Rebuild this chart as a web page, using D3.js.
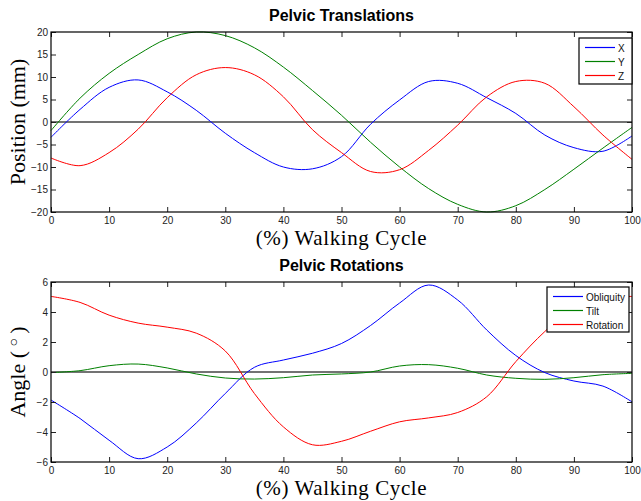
<!DOCTYPE html>
<html>
<head>
<meta charset="utf-8">
<script src="https://cdn.jsdelivr.net/npm/d3@7"></script>
<style>
  body { margin: 0; background: #fff; }
  svg { display: block; }
</style>
</head>
<body>
<svg id="chart" width="641" height="501"></svg>
<script>
// walking cycle positions (%)
const cycle = [0, 5, 10, 15, 20, 25, 30, 35, 40, 45, 50, 55, 60, 65, 70, 75, 80, 85, 90, 95, 100];

// pelvic translations (mm)
const transX = [-3.4, 2.8, 7.7, 9.35, 6.7, 2.6, -2.5, -6.8, -10.0, -10.4, -7.7, -0.5, 4.9, 9.0, 8.6, 5.4, 1.9, -2.9, -5.7, -6.5, -3.1];
const transY = [-1.9, 5.3, 10.8, 15.0, 18.5, 20.0, 19.2, 16.5, 12.2, 7.0, 1.5, -4.5, -10.0, -14.8, -18.3, -20.0, -18.6, -15.0, -10.5, -5.8, -1.2];
const transZ = [-8.0, -9.7, -6.8, -1.6, 5.4, 10.5, 12.1, 10.5, 5.6, -1.7, -6.8, -11.0, -10.6, -6.3, -0.7, 5.6, 9.0, 8.6, 3.4, -2.9, -8.3];

// pelvic rotations (deg)
const obliquity = [-1.87, -3.1, -4.55, -5.78, -5.0, -3.4, -1.43, 0.31, 0.8, 1.25, 1.9, 3.1, 4.6, 5.8, 4.8, 2.8, 1.1, -0.04, -0.6, -0.94, -1.99];
const tilt = [-0.04, 0.09, 0.42, 0.53, 0.27, -0.13, -0.4, -0.47, -0.38, -0.2, -0.13, 0.0, 0.4, 0.49, 0.25, -0.2, -0.42, -0.49, -0.38, -0.18, -0.09];
const rotation = [5.04, 4.64, 3.79, 3.26, 2.99, 2.59, 1.4, -1.43, -3.66, -4.85, -4.62, -3.95, -3.32, -3.06, -2.7, -1.65, 0.69, 2.7, 4.3, 4.9, 5.04];

const xTicks = [0, 10, 20, 30, 40, 50, 60, 70, 80, 90, 100];
const transTicks = [-20, -15, -10, -5, 0, 5, 10, 15, 20];
const rotTicks = [-6, -4, -2, 0, 2, 4, 6];

const svg = d3.select("#chart");
const sans = "'Liberation Sans', Arial, Helvetica, sans-serif";
const serif = "'Liberation Serif', 'Times New Roman', serif";

function drawPanel(opts) {
  const { top, bottom, left, right, yDomain, yTicks, series, title, yLabel, legend } = opts;

  const x = d3.scaleLinear().domain([0, 100]).range([left, right]);
  const y = d3.scaleLinear().domain(yDomain).range([bottom, top]);

  const g = svg.append("g");

  // zero line
  g.append("line")
    .attr("x1", left).attr("x2", right)
    .attr("y1", y(0)).attr("y2", y(0))
    .attr("stroke", "#444").attr("stroke-width", 1.3);

  // series
  const line = d3.line()
    .x((d, i) => x(cycle[i]))
    .y(d => y(d))
    .curve(d3.curveCatmullRom.alpha(0.5));

  g.selectAll("path.series")
    .data(series)
    .join("path")
    .attr("class", "series")
    .attr("fill", "none")
    .attr("stroke", d => d.color)
    .attr("stroke-width", 1)
    .attr("d", d => line(d.values));

  // axes (ticks inside, mirrored on top and right)
  const fmt = d => d < 0 ? "\u2212" + Math.abs(d) : String(d);
  const styleAxis = sel => {
    sel.select(".domain").remove();
    sel.selectAll("text").attr("font-family", sans).attr("font-size", 10).attr("fill", "#222");
    sel.selectAll(".tick line").attr("stroke", "#222");
  };

  g.append("g")
    .attr("transform", `translate(0,${bottom})`)
    .call(d3.axisBottom(x).tickValues(xTicks).tickSizeInner(-5).tickSizeOuter(0).tickPadding(5).tickFormat(fmt))
    .call(styleAxis);
  g.append("g")
    .attr("transform", `translate(0,${top})`)
    .call(d3.axisTop(x).tickValues(xTicks).tickSizeInner(-5).tickSizeOuter(0).tickFormat(""))
    .call(styleAxis);
  g.append("g")
    .attr("transform", `translate(${left},0)`)
    .call(d3.axisLeft(y).tickValues(yTicks).tickSizeInner(-5).tickSizeOuter(0).tickPadding(3).tickFormat(fmt))
    .call(styleAxis);
  g.append("g")
    .attr("transform", `translate(${right},0)`)
    .call(d3.axisRight(y).tickValues(yTicks).tickSizeInner(-5).tickSizeOuter(0).tickFormat(""))
    .call(styleAxis);

  // box
  g.append("rect")
    .attr("x", left).attr("y", top)
    .attr("width", right - left).attr("height", bottom - top)
    .attr("fill", "none").attr("stroke", "#000").attr("stroke-width", 1.2);

  // title
  g.append("text")
    .attr("x", (left + right) / 2).attr("y", top - 11)
    .attr("text-anchor", "middle")
    .attr("font-family", sans).attr("font-weight", "bold").attr("font-size", 16)
    .text(title);

  // axis labels
  g.append("text")
    .attr("x", (left + right) / 2).attr("y", bottom + 33)
    .attr("text-anchor", "middle")
    .attr("font-family", serif).attr("font-size", 21)
    .attr("letter-spacing", 0.6)
    .text("(%) Walking Cycle");

  const yl = g.append("text")
    .attr("transform", `translate(25,${(top + bottom) / 2}) rotate(-90)`)
    .attr("text-anchor", "middle")
    .attr("font-family", serif).attr("font-size", 22);
  yLabel.forEach(part => {
    yl.append("tspan")
      .attr("font-size", part.size || 22)
      .attr("dy", part.dy || 0)
      .text(part.text);
  });

  // legend
  const lg = g.append("g");
  lg.append("rect")
    .attr("x", legend.x).attr("y", legend.y)
    .attr("width", legend.w).attr("height", legend.h)
    .attr("fill", "#fff").attr("stroke", "#000").attr("stroke-width", 1.2);
  const items = lg.selectAll("g.item")
    .data(series)
    .join("g")
    .attr("class", "item")
    .attr("transform", (d, i) => `translate(${legend.x},${legend.y + legend.first + i * 14})`);
  items.append("line")
    .attr("x1", 6).attr("x2", legend.lineW)
    .style("stroke", d => d.color).style("stroke-width", 1.2);
  items.append("text")
    .attr("x", legend.lineW + 3).attr("y", 4)
    .attr("font-family", sans).attr("font-size", 10).attr("fill", "#111")
    .text(d => d.name);
}

drawPanel({
  top: 32, bottom: 212, left: 51, right: 632,
  yDomain: [-20, 20], yTicks: transTicks,
  title: "Pelvic Translations",
  yLabel: [{ text: "Position (mm)" }],
  series: [
    { name: "X", color: "#0000ff", values: transX },
    { name: "Y", color: "#008000", values: transY },
    { name: "Z", color: "#ff0000", values: transZ }
  ],
  legend: { x: 579, y: 38, w: 53, h: 46, first: 9.5, lineW: 36 }
});

drawPanel({
  top: 282, bottom: 462, left: 51, right: 632,
  yDomain: [-6, 6], yTicks: rotTicks,
  title: "Pelvic Rotations",
  yLabel: [
    { text: "Angle (\u2009" },
    { text: "\u25CB", size: 14, dy: -7 },
    { text: "\u2009)", dy: 7 }
  ],
  series: [
    { name: "Obliquity", color: "#0000ff", values: obliquity },
    { name: "Tilt", color: "#008000", values: tilt },
    { name: "Rotation", color: "#ff0000", values: rotation }
  ],
  legend: { x: 547, y: 287, w: 82, h: 45, first: 9.5, lineW: 36 }
});
</script>
</body>
</html>
